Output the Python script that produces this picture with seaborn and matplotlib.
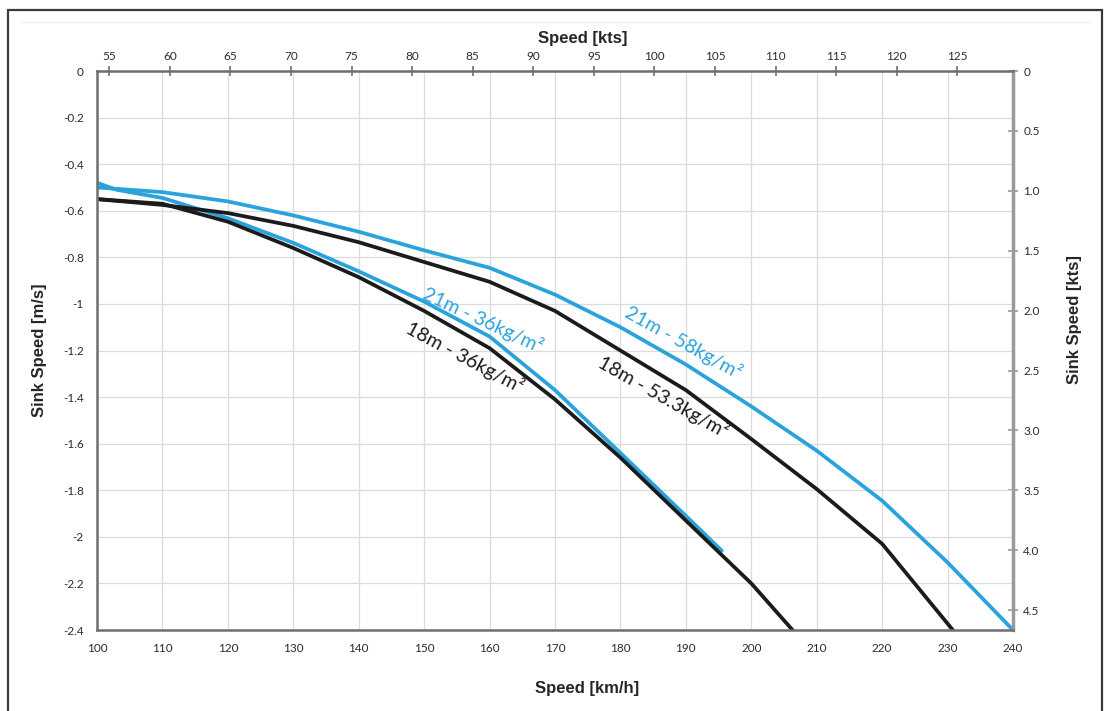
import matplotlib
matplotlib.use("Agg")
import matplotlib.pyplot as plt
import matplotlib.ticker as mticker
from matplotlib.patches import Rectangle
import seaborn as sns
import pandas as pd

# Datos (velocidad en km/h, caida en m/s)
v_21_36 = [100, 103, 110, 120, 130, 140, 150, 160, 170, 180, 190, 195.5]
s_21_36 = [-0.48, -0.51, -0.545, -0.632, -0.738, -0.86, -0.99, -1.14, -1.37, -1.64, -1.91, -2.06]

v_18_36 = [100, 110, 120, 130, 140, 150, 160, 170, 180, 190, 200, 206.3]
s_18_36 = [-0.55, -0.57, -0.647, -0.76, -0.885, -1.03, -1.19, -1.41, -1.66, -1.93, -2.20, -2.40]

v_21_58 = [100, 110, 120, 130, 140, 150, 160, 170, 180, 190, 200, 210, 220, 230, 240]
s_21_58 = [-0.50, -0.52, -0.56, -0.62, -0.69, -0.77, -0.845, -0.96, -1.10, -1.26, -1.44, -1.63, -1.845, -2.11, -2.40]

v_18_53 = [100, 110, 120, 130, 140, 150, 160, 170, 180, 190, 200, 210, 220, 230.8]
s_18_53 = [-0.55, -0.575, -0.61, -0.665, -0.735, -0.82, -0.905, -1.03, -1.20, -1.37, -1.58, -1.795, -2.03, -2.40]

etiquetas = ["21m - 36kg/m²", "18m - 36kg/m²", "21m - 58kg/m²", "18m - 53.3kg/m²"]

AZUL = "#2aa3dd"
NEGRO = "#1b1b1b"
KMH_POR_KT = 1.852
MS_POR_KT = 0.514444

sns.set_theme(style="white")
plt.rcParams["font.family"] = ["Lato", "DejaVu Sans"]

W, H = 1107, 711
fig, ax = plt.subplots(figsize=(W / 100, H / 100), dpi=100)
fig.subplots_adjust(left=97 / W, right=1013 / W, top=1 - 71 / H, bottom=1 - 630 / H)

series = [
    (v_21_36, s_21_36, AZUL),
    (v_21_58, s_21_58, AZUL),
    (v_18_36, s_18_36, NEGRO),
    (v_18_53, s_18_53, NEGRO),
]
for v, s, c in series:
    df = pd.DataFrame({"v": v, "s": s})
    sns.lineplot(data=df, x="v", y="s", color=c, linewidth=2.7, ax=ax, sort=False)

ax.set_xlim(100, 240)
ax.set_ylim(-2.4, 0)
ax.set_xticks(range(100, 241, 10))
ax.set_yticks([-0.2 * i for i in range(13)])
ax.yaxis.set_major_formatter(mticker.FuncFormatter(lambda y, p: "0" if abs(y) < 1e-9 else f"{y:g}"))
ax.grid(True, color="#dcdcdc", linewidth=0.9)
ax.set_axisbelow(True)
ax.set_xlabel("")
ax.set_ylabel("")

for nombre, sp in ax.spines.items():
    sp.set_color("#6f6f6f")
    sp.set_linewidth(1.8)
ax.spines["right"].set_color("#9a9a9a")
ax.spines["right"].set_linewidth(2.5)

titulo = dict(fontsize=12, fontweight="bold", color="#262626",
              family=["Liberation Sans", "DejaVu Sans"], ha="center", va="center")

ax.tick_params(axis="both", direction="inout", length=7, width=1.2, color="#6f6f6f",
               labelsize=8.5, labelcolor="#2b2b2b", pad=6)

# eje superior en nudos
top = ax.secondary_xaxis("top", functions=(lambda x: x / KMH_POR_KT, lambda k: k * KMH_POR_KT))
top.set_xticks(range(55, 126, 5))
top.tick_params(direction="inout", length=7, width=1.2, color="#6f6f6f",
                labelsize=8.5, labelcolor="#2b2b2b", pad=3)
top.spines["top"].set_visible(False)

# eje derecho en nudos
der = ax.secondary_yaxis("right", functions=(lambda y: -y / MS_POR_KT, lambda k: -k * MS_POR_KT))
der.set_yticks([0.5 * i for i in range(10)])
der.yaxis.set_major_formatter(mticker.FuncFormatter(lambda k, p: "0" if abs(k) < 1e-9 else f"{k:.1f}"))
der.tick_params(direction="inout", length=7, width=1.2, color="#9a9a9a",
                labelsize=8.5, labelcolor="#2b2b2b", pad=4)
der.spines["right"].set_visible(False)

# titulos de los ejes
fig.text(587 / W, 1 - 688 / H, "Speed [km/h]", **titulo)
fig.text(583 / W, 1 - 38 / H, "Speed [kts]", **titulo)
fig.text(40 / W, 1 - 350 / H, "Sink Speed [m/s]", rotation=90, **titulo)
fig.text(1075 / W, 1 - 320 / H, "Sink Speed [kts]", rotation=90, **titulo)

# etiquetas de las curvas
pos = [(159.0, -1.07, -25, AZUL), (156.2, -1.23, -28, NEGRO),
       (189.6, -1.165, -29, AZUL), (186.5, -1.40, -29.5, NEGRO)]
for txt, (x, y, rot, c) in zip(etiquetas, pos):
    ax.text(x, y, txt, color=c, fontsize=14, rotation=rot, rotation_mode="anchor",
            ha="center", va="center")

# marco exterior
fig.patches.append(Rectangle((8 / W, -0.01), 1094 / W, 1.01 - 10 / H,
                             transform=fig.transFigure, fill=False,
                             edgecolor="#3a3a3a", linewidth=1.6))
fig.add_artist(plt.Line2D([20 / W, 1090 / W], [1 - 22 / H, 1 - 22 / H],
                          transform=fig.transFigure, color="#eef2f6", linewidth=1))

fig.savefig("out.png", dpi=100)
